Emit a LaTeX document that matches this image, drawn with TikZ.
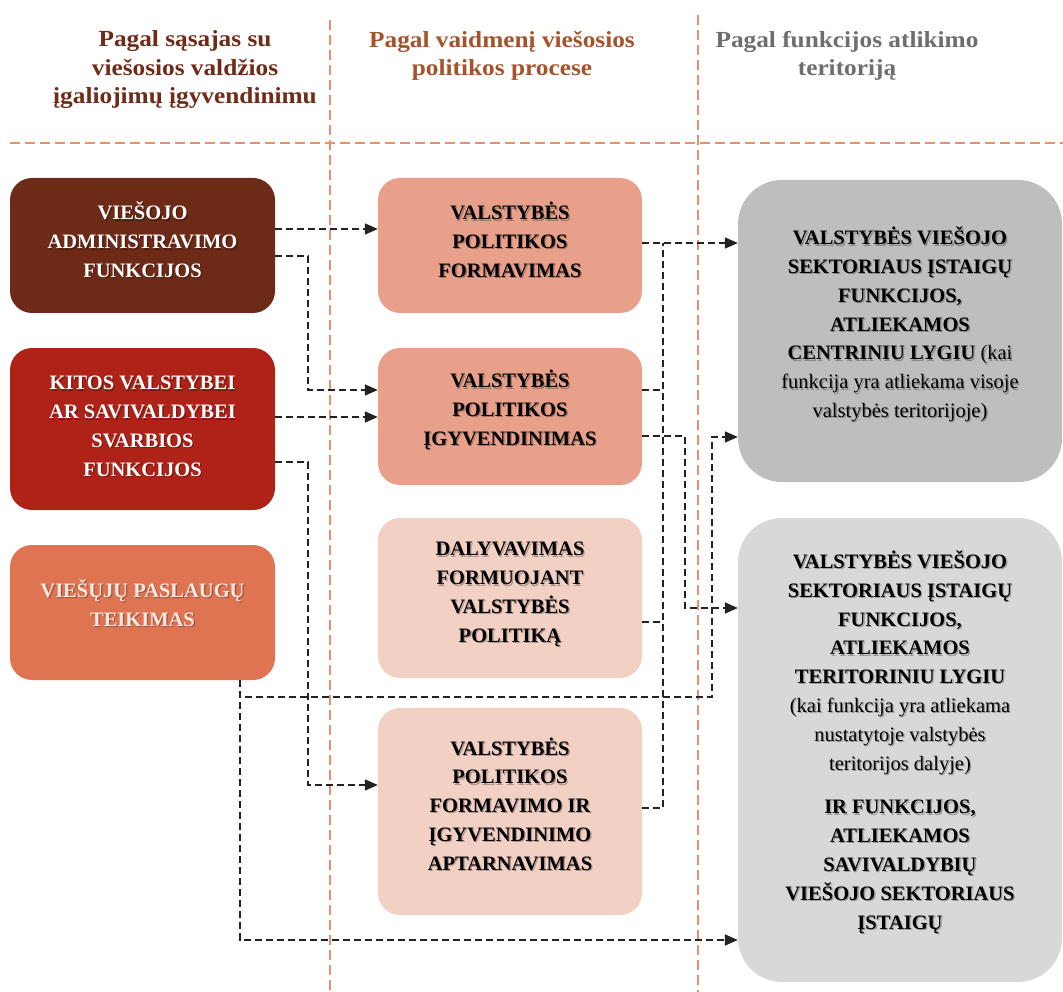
\documentclass[tikz,border=0pt]{standalone}
\usepackage{fontspec}
\setmainfont{Liberation Serif}
\newfontfamily\hdfont{Liberation Serif}[FakeStretch=1.1]
\usetikzlibrary{arrows.meta}

\definecolor{adminc}{HTML}{6C2A17}
\definecolor{otherc}{HTML}{AE2218}
\definecolor{servc}{HTML}{DF7453}
\definecolor{midc}{HTML}{E8A08A}
\definecolor{lightc}{HTML}{F2D0C4}
\definecolor{centc}{HTML}{BEBEBE}
\definecolor{terrc}{HTML}{D8D8D8}
\definecolor{sepc}{HTML}{E8906C}
\definecolor{headA}{HTML}{6E2B18}
\definecolor{headB}{HTML}{A4532C}
\definecolor{headC}{HTML}{6E6E6E}
\definecolor{linec}{HTML}{222222}
\definecolor{paletxt}{HTML}{FCEAE2}

% text of a box with a soft drop shadow: name, box, vertical offset, colour, text
\newcommand\boxtext[5]{%
  \node[txt, text=black, opacity=.28] (#1-sh) at ([xshift=1.3pt,yshift=#3pt-1.3pt]#2.center) {#5};
  \node[txt, text=#4] (#1) at ([yshift=#3pt]#2.center) {#5};}

\begin{document}
\begin{tikzpicture}[x=1pt,y=-1pt,
  box/.style={rectangle, rounded corners=22pt, draw=none, inner sep=0pt},
  bigbox/.style={rectangle, rounded corners=44pt, draw=none, inner sep=0pt},
  txt/.style={align=center, inner sep=0pt, font=\bfseries\fontsize{20.5}{28.8}\selectfont},
  head/.style={align=center, inner sep=0pt, font=\hdfont\bfseries\fontsize{23}{28.5}\selectfont},
  sep/.style={draw=sepc, line width=1.3pt, dash pattern=on 10pt off 5pt},
  conn/.style={draw=linec, line width=1.7pt, dash pattern=on 7pt off 4pt},
  arr/.style={conn, -{Triangle[length=13pt,width=11pt]}}]

\useasboundingbox (0,0) rectangle (1063,992);

% column separators
\draw[sep] (330,20) -- (330,992);
\draw[sep] (698,15) -- (698,992);
\draw[sep] (10,143) -- (1063,143);

% column headings
\node[head, text=headA] (h1) at (185,70) {Pagal sąsajas su\\viešosios valdžios\\įgaliojimų įgyvendinimu};
\node[head, text=headB] (h2) at (502,56) {Pagal vaidmenį viešosios\\politikos procese};
\node[head, text=headC] (h3) at (847,56) {Pagal funkcijos atlikimo\\teritoriją};

% left column
\node[box, fill=adminc, minimum width=265pt, minimum height=135pt] (A) at (142.5,245.5) {};
\node[box, fill=otherc, minimum width=265pt, minimum height=162pt] (B) at (142.5,429) {};
\node[box, fill=servc,  minimum width=265pt, minimum height=135pt] (C) at (142.5,612.5) {};
% middle column
\node[box, fill=midc,   minimum width=264pt, minimum height=135pt] (M1) at (510,245.5) {};
\node[box, fill=midc,   minimum width=264pt, minimum height=137pt] (M2) at (510,416.5) {};
\node[box, fill=lightc, minimum width=264pt, minimum height=160pt] (M3) at (510,598) {};
\node[box, fill=lightc, minimum width=264pt, minimum height=207pt] (M4) at (510,811.5) {};
% right column
\node[bigbox, fill=centc, minimum width=324pt, minimum height=302pt] (R1) at (900,331) {};
\node[bigbox, fill=terrc, minimum width=324pt, minimum height=464pt] (R2) at (900,750) {};

\boxtext{At}{A}{5.5}{white}{VIEŠOJO\\ADMINISTRAVIMO\\FUNKCIJOS}
\boxtext{Bt}{B}{2.5}{white}{KITOS VALSTYBEI\\AR SAVIVALDYBEI\\SVARBIOS\\FUNKCIJOS}
\boxtext{Ct}{C}{9.5}{paletxt}{VIEŠŲJŲ PASLAUGŲ\\TEIKIMAS}
\boxtext{M1t}{M1}{5.5}{black}{VALSTYBĖS\\POLITIKOS\\FORMAVIMAS}
\boxtext{M2t}{M2}{6.5}{black}{VALSTYBĖS\\POLITIKOS\\ĮGYVENDINIMAS}
\boxtext{M3t}{M3}{3.5}{black}{DALYVAVIMAS\\FORMUOJANT\\VALSTYBĖS\\POLITIKĄ}
\boxtext{M4t}{M4}{7.5}{black}{VALSTYBĖS\\POLITIKOS\\FORMAVIMO IR\\ĮGYVENDINIMO\\APTARNAVIMAS}
\boxtext{R1t}{R1}{6.5}{black}{VALSTYBĖS VIEŠOJO\\SEKTORIAUS ĮSTAIGŲ\\FUNKCIJOS,\\ATLIEKAMOS\\CENTRINIU LYGIU {\mdseries (kai}\\{\mdseries funkcija yra atliekama visoje}\\{\mdseries valstybės teritorijoje)}}
\boxtext{R2t}{R2}{8}{black}{VALSTYBĖS VIEŠOJO\\SEKTORIAUS ĮSTAIGŲ\\FUNKCIJOS,\\ATLIEKAMOS\\TERITORINIU LYGIU\\{\mdseries (kai funkcija yra atliekama}\\{\mdseries nustatytoje valstybės}\\{\mdseries teritorijos dalyje)}\\[15pt]IR FUNKCIJOS,\\ATLIEKAMOS\\SAVIVALDYBIŲ\\VIEŠOJO SEKTORIAUS\\ĮSTAIGŲ}

% connector end points on the boxes
\coordinate (a1) at ([yshift=16.5pt]A.east);
\coordinate (a2) at ([yshift=-10.5pt]A.east);
\coordinate (b1) at ([yshift=12pt]B.east);
\coordinate (b2) at ([yshift=-33pt]B.east);
\coordinate (c0) at ([xshift=97.5pt]C.south);
\coordinate (m2in) at ([yshift=26.5pt]M2.west);
\coordinate (m4in) at ([yshift=26.5pt]M4.west);
\coordinate (m1o) at ([yshift=2.5pt]M1.east);
\coordinate (m2o1) at ([yshift=26.5pt]M2.east);
\coordinate (m2o2) at ([yshift=-19.5pt]M2.east);
\coordinate (m3o) at ([yshift=-24pt]M3.east);
\coordinate (m4o) at ([yshift=3.5pt]M4.east);
\coordinate (r1low) at ([yshift=-106pt]R1.west);
\coordinate (r2in) at ([yshift=142pt]R2.west);
\coordinate (r2low) at ([yshift=-190pt]R2.west);
\coordinate (bus) at ([xshift=21pt]m1o);

% left column to middle column
\draw[arr] (a1) -- (a1 -| M1.west);
\draw[arr] (a2) -- ++(33,0) |- (m2in);
\draw[arr] (b1) -- (b1 -| M2.west);
\draw[arr] (b2) -- ++(33,0) |- (m4in);

% public services to both territorial levels
\draw[arr] (c0) |- (r2low);
\draw[arr] (c0) -- ++(0,17) -| ([xshift=-26pt]r1low) -- (r1low);

% middle column to right column
\draw[arr] (m1o) -- (m1o -| R1.west);
\draw[conn] (m4o) -| (bus);
\draw[conn] (m2o1) -- ++(21,0);
\draw[conn] (m3o) -- ++(21,0);
\draw[arr] (m2o2) -- ++(43,0) |- (r2in);

\end{tikzpicture}
\end{document}
